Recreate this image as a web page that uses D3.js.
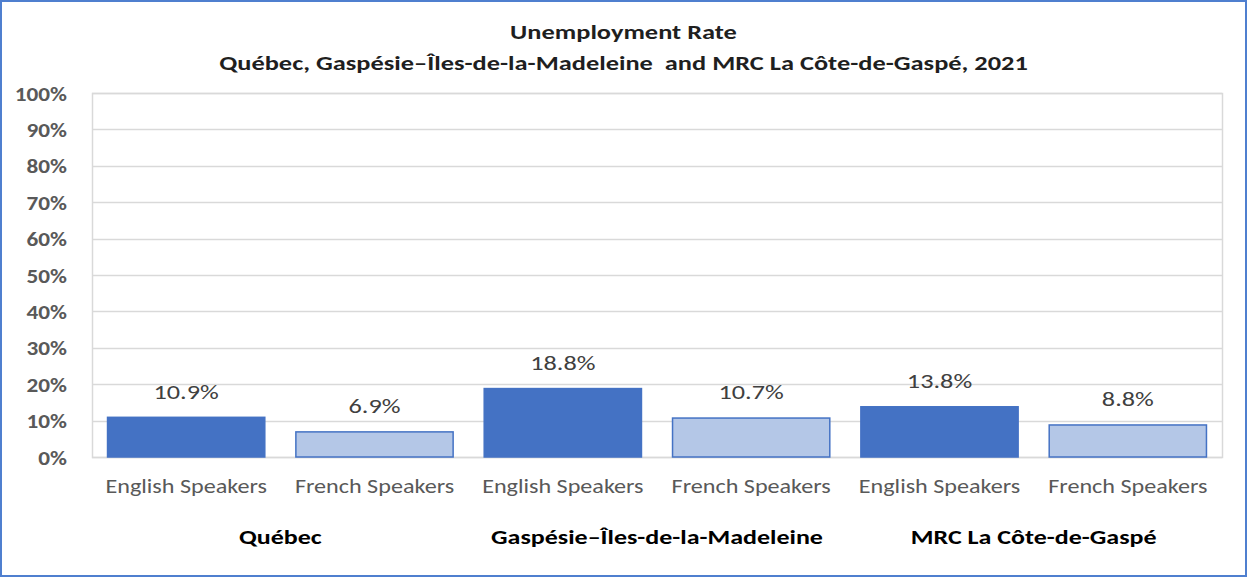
<!DOCTYPE html>
<html>
<head>
<meta charset="utf-8">
<script src="https://cdn.jsdelivr.net/npm/d3@7"></script>
<style>
  html, body { margin: 0; padding: 0; background: #fff; }
  svg { display: block; font-family: Carlito, Lato, "Open Sans", sans-serif; }
</style>
</head>
<body>
<svg id="chart"></svg>
<script>
// ── Data ──
const groups = ["Québec", "Gaspésie–Îles-de-la-Madeleine", "MRC La Côte-de-Gaspé"];
const speakers = ["English Speakers", "French Speakers"];
const englishRates = [10.9, 18.8, 13.8];
const frenchRates = [6.9, 10.7, 8.8];
const yTicks = [0, 10, 20, 30, 40, 50, 60, 70, 80, 90, 100];
const titleLines = ["Unemployment Rate", "Québec, Gaspésie–Îles-de-la-Madeleine  and MRC La Côte-de-Gaspé, 2021"];

const width = 1247, height = 577;
const margin = { top: 93, right: 25, bottom: 120, left: 92 };

const svg = d3.select("#chart").attr("width", width).attr("height", height);

// the original was rendered with a wide Calibri; stretch Lato horizontally to match
const stretch = (x, y, s) => `translate(${x},${y}) scale(${s},1)`;

// frame
svg.append("rect")
  .attr("x", 1).attr("y", 1)
  .attr("width", width - 2).attr("height", height - 2)
  .attr("fill", "#fff")
  .attr("stroke", "#4f7fcf").attr("stroke-width", 2);

// ── Flatten bars ──
const bars = [];
groups.forEach((g, i) => {
  bars.push({ key: g + "|E", group: g, speaker: speakers[0], value: englishRates[i], lang: "E" });
  bars.push({ key: g + "|F", group: g, speaker: speakers[1], value: frenchRates[i], lang: "F" });
});

const x = d3.scaleBand()
  .domain(bars.map(d => d.key))
  .range([margin.left, width - margin.right])
  .paddingInner(0.165)
  .paddingOuter(0.0825);

const xGroup = d3.scaleBand()
  .domain(groups)
  .range([margin.left, width - margin.right]);

const y = d3.scaleLinear()
  .domain([0, 100])
  .range([height - margin.bottom, margin.top]);

// ── Grid ──
svg.append("g")
  .selectAll("line")
  .data(yTicks)
  .join("line")
  .attr("x1", margin.left).attr("x2", width - margin.right)
  .attr("y1", d => Math.round(y(d)) + 0.5).attr("y2", d => Math.round(y(d)) + 0.5)
  .attr("stroke", "#d9d9d9").attr("stroke-width", 1.5);

svg.append("rect")
  .attr("x", margin.left + 0.5).attr("y", Math.round(y(100)) + 0.5)
  .attr("width", width - margin.right - margin.left)
  .attr("height", Math.round(y(0)) - Math.round(y(100)))
  .attr("fill", "none").attr("stroke", "#d9d9d9").attr("stroke-width", 1.5);

// ── Y axis labels ──
const yAxis = d3.axisLeft(y).tickValues(yTicks).tickFormat(d => d + "%").tickSize(0).tickPadding(0);
const yg = svg.append("g").attr("transform", `translate(${margin.left},0)`).call(yAxis);
yg.select(".domain").remove();
yg.selectAll(".tick text")
  .attr("x", null).attr("dy", "0.35em")
  .attr("transform", stretch(-25, 0, 1.16))
  .attr("fill", "#595959")
  .style("font-size", "20px")
  .style("font-weight", "bold")
  .style("font-family", "Carlito, Lato, sans-serif");

// ── Bars ──
svg.append("g")
  .selectAll("rect")
  .data(bars)
  .join("rect")
  .attr("x", d => x(d.key))
  .attr("y", d => y(d.value))
  .attr("width", x.bandwidth())
  .attr("height", d => y(0) - y(d.value))
  .attr("fill", d => d.lang === "E" ? "#4472c4" : "#b4c7e7")
  .attr("stroke", "#4472c4")
  .attr("stroke-width", 1.5);

// value labels
svg.append("g")
  .selectAll("text")
  .data(bars)
  .join("text")
  .attr("transform", d => stretch(x(d.key) + x.bandwidth() / 2, y(d.value) - 26, 1.25))
  .attr("dy", "0.35em")
  .attr("text-anchor", "middle")
  .attr("fill", "#404040")
  .style("font-size", "21px")
  .text(d => d.value.toFixed(1) + "%");

// ── X axis: speaker labels ──
svg.append("g")
  .selectAll("text")
  .data(bars)
  .join("text")
  .attr("transform", d => stretch(x(d.key) + x.bandwidth() / 2, 486, 1.15))
  .attr("dy", "0.35em")
  .attr("text-anchor", "middle")
  .attr("fill", "#595959")
  .style("font-size", "21px")
  .text(d => d.speaker);

// group labels
svg.append("g")
  .selectAll("text")
  .data(groups)
  .join("text")
  .attr("transform", d => stretch(xGroup(d) + xGroup.bandwidth() / 2, 537, 1.3))
  .attr("dy", "0.35em")
  .attr("text-anchor", "middle")
  .attr("fill", "#000")
  .style("font-size", "20px")
  .style("font-weight", "bold")
  .text(d => d);

// ── Title ──
svg.append("g")
  .selectAll("text")
  .data(titleLines)
  .join("text")
  .attr("transform", (d, i) => stretch(width / 2, 32 + i * 31, 1.32))
  .attr("dy", "0.35em")
  .attr("text-anchor", "middle")
  .attr("fill", "#1f1f1f")
  .style("font-size", "20px")
  .style("font-weight", "bold")
  .style("white-space", "pre")
  .text(d => d);
</script>
</body>
</html>
